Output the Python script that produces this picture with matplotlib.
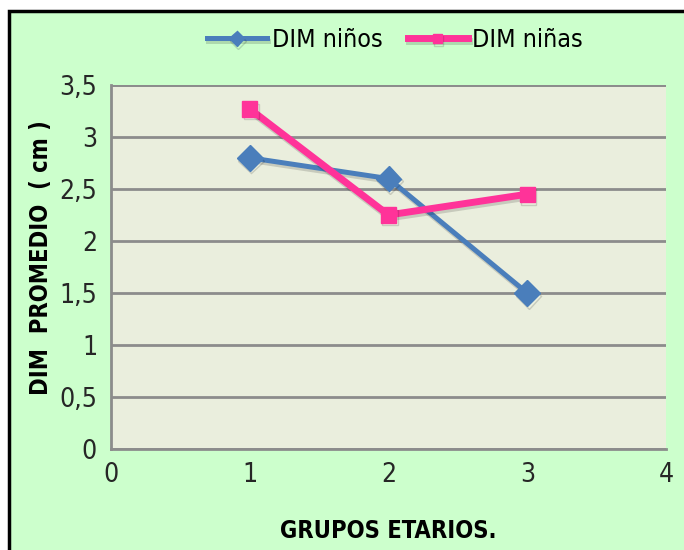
import matplotlib.pyplot as plt
import matplotlib.patheffects as pe
from matplotlib import font_manager
from matplotlib.lines import Line2D

# data
grupos = [1, 2, 3]
dim_ninos = [2.8, 2.6, 1.5]
dim_ninas = [3.27, 2.25, 2.45]
x_ticks = [0, 1, 2, 3, 4]
y_ticks = [0, 0.5, 1, 1.5, 2, 2.5, 3, 3.5]
y_labels = ['0', '0,5', '1', '1,5', '2', '2,5', '3', '3,5']

# look for a narrow sans, like the Arial Narrow of the original
fonts = font_manager.fontManager.ttflist
names = sorted(set(f.name for f in fonts))
narrow = [f for f in fonts if 'narrow' in f.fname.lower() or 'condensed' in f.fname.lower()]
stretch = 'normal'
if 'Liberation Sans Narrow' in names:
    fam = 'Liberation Sans Narrow'
elif narrow:
    fam = narrow[0].name
    stretch = 'condensed'
else:
    fam = 'Liberation Sans'
plt.rcParams['font.family'] = [fam, 'DejaVu Sans']
plt.rcParams['font.stretch'] = stretch

fig = plt.figure(figsize=(6.84, 5.5), dpi=100, facecolor='white')
# green chart area, black frame only on top and left (rest is cut off)
fig.patches.append(plt.Rectangle((9 / 684, 0), 1, 1 - 11 / 550, transform=fig.transFigure,
                                 facecolor='#ccffcc', edgecolor='none', zorder=-2))
fx = 8.5 / 684
fy = 1 - 10.5 / 550
fig.add_artist(Line2D([fx, fx, 683.9 / 684], [0.1 / 550, fy, fy], transform=fig.transFigure,
                      color='black', lw=2.5, solid_joinstyle='miter'))

ax = fig.add_axes([111 / 684, 1 - 449 / 550, 555 / 684, (449 - 85) / 550])
ax.set_facecolor('#eaeedd')

shadow = [pe.SimpleLineShadow(offset=(1, -2), alpha=0.15, shadow_color='black'), pe.Normal()]
ax.plot(grupos, dim_ninos, color='#4a7ebb', lw=3.6, marker='D', markersize=13,
        label='DIM niños', path_effects=shadow, zorder=3)
ax.plot(grupos, dim_ninas, color='#ff3399', lw=5, marker='s', markersize=11,
        label='DIM niñas', path_effects=shadow, zorder=4)

ax.set_xlim(0, 4)
ax.set_ylim(0, 3.5)
ax.set_xticks(x_ticks)
ax.set_yticks(y_ticks)
ax.set_yticklabels(y_labels)
ax.tick_params(length=0, labelsize=19, colors='#262626', pad=10)
ax.tick_params(axis='x', pad=9)
ax.yaxis.grid(True, color='#8c8c8c', lw=2)
ax.set_axisbelow(True)
for s in ['top', 'right']:
    ax.spines[s].set_visible(False)
for s in ['left', 'bottom']:
    ax.spines[s].set_color('#8c8c8c')
    ax.spines[s].set_linewidth(2)
ax.axhline(3.5, color='#8c8c8c', lw=2, zorder=1)

fig.text(388 / 684, 1 - 531 / 550, 'GRUPOS ETARIOS.', ha='center', va='center',
         fontsize=17, fontweight='bold')
fig.text(41 / 684, 1 - 258 / 550, 'DIM  PROMEDIO  ( cm )', ha='center', va='center',
         rotation=90, fontsize=17, fontweight='bold')

fig.legend(loc='center', bbox_to_anchor=(395 / 684, 1 - 40 / 550), ncol=2, frameon=False,
           fontsize=18, handlelength=2.4, columnspacing=1.0, handletextpad=0.2,
           markerscale=0.6)

fig.savefig('out.png', dpi=100)
